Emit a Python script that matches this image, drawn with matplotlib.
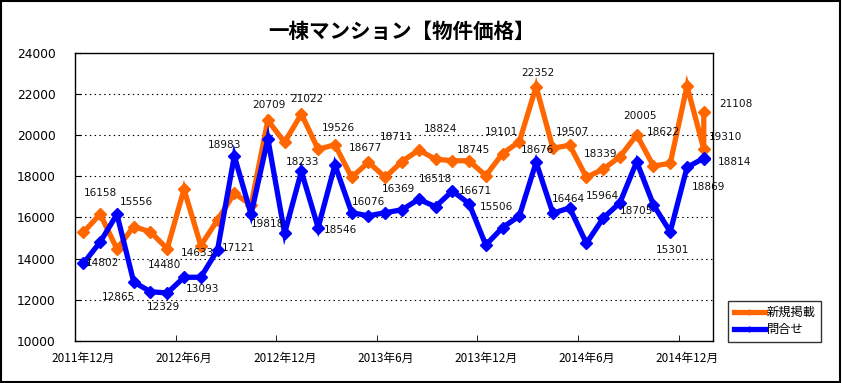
#!/usr/bin/env python3
"""
一棟マンション【物件価格】 - 新規掲載 / 問合せ の推移
"""

import matplotlib
matplotlib.use('Agg')
import matplotlib.pyplot as plt
from matplotlib.patches import Rectangle
import pandas as pd

# ===============================
# Data
# ===============================
months = pd.period_range('2011-12', '2015-01', freq='M').astype(str).tolist() + ['2015-01']

new_listing = [15277, 16158, 14467, 15556, 15292, 14480, 17365, 14633, 15874, 17170,
               16603, 20709, 19646, 21022, 19306, 19526, 17947, 18677, 17947, 18711,
               19272, 18824, 18753, 18745, 18025, 19101, 19675, 22352, 19355, 19507,
               17947, 18339, 18947, 20005, 18496, 18622, 22379, 19310, 21108]

inquiry = [13773, 14802, 16151, 12865, 12394, 12329, 13093, 13093, 14418, 18983,
           16151, 19818, 15229, 18233, 15501, 18546, 16229, 16076, 16229, 16369,
           16879, 16518, 17282, 16671, 14661, 15506, 16069, 18676, 16200, 16464,
           14743, 15964, 16714, 18705, 16603, 15301, 18432, 18869, 18814]

tick_labels = ['2011年12月', '2012年6月', '2012年12月', '2013年6月',
               '2013年12月', '2014年6月', '2014年12月']

# data labels as they sit in the original chart (text, x in months, y in yen)
label_texts = ['16158', '15556', '14802', '12865', '14480', '12329', '14633', '13093',
               '17121', '18983', '19818', '20709', '21022', '18233', '19526', '18546',
               '18677', '16076', '18711', '16369', '18824', '16518', '18745', '16671',
               '19101', '15506', '22352', '18676', '19507', '16464', '18339', '15964',
               '20005', '18705', '18622', '15301', '18869', '21108', '19310', '18814']
label_x = [1.04, 3.15, 1.16, 2.11, 4.86, 4.80, 6.81, 7.13, 9.24, 8.44,
           10.99, 11.07, 13.34, 13.10, 15.19, 15.31, 16.82, 17.00, 18.69, 18.77,
           21.28, 21.00, 23.27, 23.39, 24.92, 24.62, 27.13, 27.10, 29.19, 28.92,
           30.87, 30.93, 33.22, 33.01, 34.59, 35.13, 37.31, 38.91, 38.31, 38.83]
label_y = [17170, 16734, 13802, 12137, 13676, 11666, 14287, 12511, 14501, 19515,
           15680, 21457, 21733, 18704, 20326, 15389, 19355, 16763, 19889, 17379,
           20277, 17864, 19272, 17282, 20160, 16520, 22995, 19272, 20160, 16879,
           19063, 17039, 20923, 16311, 20160, 14418, 17491, 21505, 19889, 18675]

# ===============================
# Plot
# ===============================
CJK = ['Noto Sans CJK JP', 'DejaVu Sans']
ORANGE = '#FF6600'
BLUE = '#0000FF'

start = pd.Period(months[0], freq='M')
x = [(pd.Period(m, freq='M') - start).n for m in months]

fig = plt.figure(figsize=(8.42, 3.83), dpi=100)
ax = fig.add_axes([0.0891, 0.1097, 0.7577, 0.753])

ax.plot(x, new_listing, color=ORANGE, lw=3.8, marker='D', ms=6.5,
        solid_joinstyle='miter', label='新規掲載', zorder=3)
ax.plot(x, inquiry, color=BLUE, lw=3.8, marker='D', ms=6.5,
        solid_joinstyle='miter', label='問合せ', zorder=4)

for t, lx, ly in zip(label_texts, label_x, label_y):
    ax.text(lx, ly, t, ha='center', va='center', fontsize=7.6,
            color='#111111', clip_on=False, zorder=5)

ax.set_xlim(-0.5, 37.55)
ax.set_ylim(10000, 24000)
ax.set_yticks(range(10000, 24001, 2000))
ax.tick_params(axis='y', direction='in', length=4, pad=14, labelsize=8.8)

ax.set_xticks(range(0, 37, 6))
ax.set_xticklabels(tick_labels, fontfamily=CJK, fontsize=8.5)
ax.set_xticks([5.5, 11.5, 17.5, 23.5, 29.5, 35.5], minor=True)
ax.tick_params(axis='x', which='major', length=0, pad=8)
ax.tick_params(axis='x', which='minor', direction='in', length=4)

ax.yaxis.grid(True, linestyle=(0, (1.3, 3)), color='black', lw=0.8)
for s in ax.spines.values():
    s.set_linewidth(1.0)

fig.text(0.477, 0.917, '一棟マンション【物件価格】', ha='center', va='center',
         fontfamily=CJK, fontsize=14.8, fontweight='bold')

leg = fig.legend(loc='upper left', bbox_to_anchor=(728 / 842, 1 - 300.7 / 383),
                 borderaxespad=0, prop={'family': CJK, 'size': 8.8}, frameon=True,
                 fancybox=False, edgecolor='black', handlelength=2.6,
                 handletextpad=0.1, borderpad=0.45, labelspacing=0.35,
                 markerscale=0.4)
leg.get_frame().set_linewidth(1.0)

fig.add_artist(Rectangle((0.001, 0.002), 0.997, 0.996, transform=fig.transFigure,
                         fill=False, edgecolor='black', lw=1.5))

plt.savefig('out.png', dpi=100)
